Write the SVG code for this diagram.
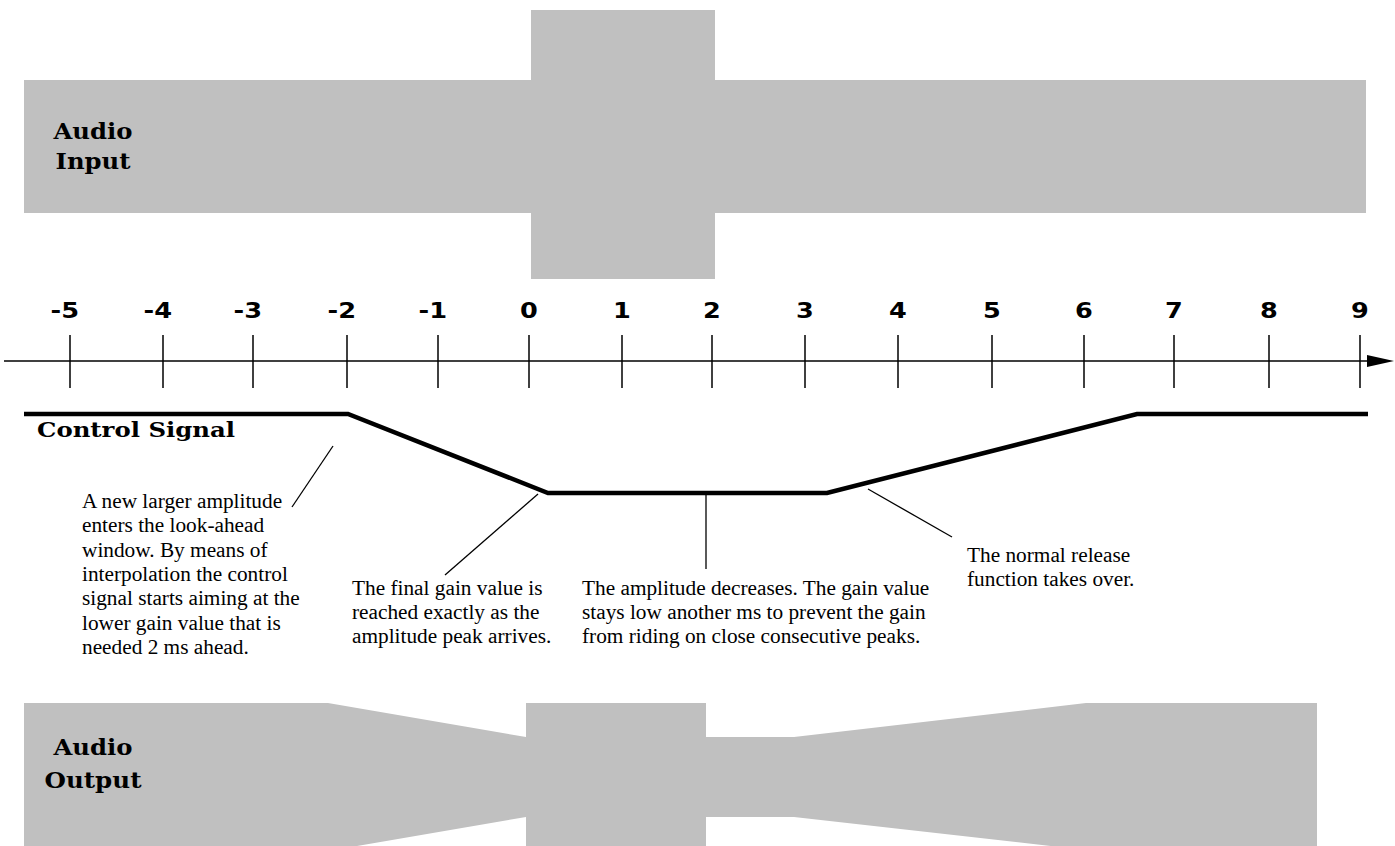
<svg xmlns="http://www.w3.org/2000/svg" width="1395" height="846" viewBox="0 0 1395 846">
<style>
.band{fill:#c0c0c0;stroke:none}
.lbl{font-family:"DejaVu Serif","Liberation Serif",serif;font-weight:bold;fill:#000}
.num{font-family:"DejaVu Sans","Liberation Sans",sans-serif;font-weight:bold;font-size:21px;fill:#000}
.note{font-family:"Liberation Serif","Times New Roman",serif;font-size:21.3px;fill:#000}
.axis{stroke:#000;stroke-width:1.5;fill:none}
.tick{stroke:#000;stroke-width:1.5}
.lead{stroke:#000;stroke-width:1.3;fill:none}
.ctrl{stroke:#000;stroke-width:4.5;fill:none;stroke-linejoin:miter}
</style>

<g id="audio-input">
<rect class="band" x="24" y="80" width="1342" height="133"/>
<rect class="band" x="531" y="10" width="184" height="269"/>
<text class="lbl" font-size="22" x="93" y="139" text-anchor="middle" textLength="79" lengthAdjust="spacingAndGlyphs">Audio</text>
<text class="lbl" font-size="22" x="93" y="169" text-anchor="middle" textLength="75" lengthAdjust="spacingAndGlyphs">Input</text>
</g>

<g id="axis">
<line class="axis" x1="4" y1="361" x2="1368" y2="361"/>
<path d="M1367,355 L1394,361 L1367,367 Z" fill="#000"/>
<g id="ticks">
<line class="tick" x1="70" y1="335" x2="70" y2="388"/>
<line class="tick" x1="163" y1="335" x2="163" y2="388"/>
<line class="tick" x1="253" y1="335" x2="253" y2="388"/>
<line class="tick" x1="347" y1="335" x2="347" y2="388"/>
<line class="tick" x1="438" y1="335" x2="438" y2="388"/>
<line class="tick" x1="529" y1="335" x2="529" y2="388"/>
<line class="tick" x1="622" y1="335" x2="622" y2="388"/>
<line class="tick" x1="712" y1="335" x2="712" y2="388"/>
<line class="tick" x1="805" y1="335" x2="805" y2="388"/>
<line class="tick" x1="898" y1="335" x2="898" y2="388"/>
<line class="tick" x1="992" y1="335" x2="992" y2="388"/>
<line class="tick" x1="1084" y1="335" x2="1084" y2="388"/>
<line class="tick" x1="1174" y1="335" x2="1174" y2="388"/>
<line class="tick" x1="1269" y1="335" x2="1269" y2="388"/>
<line class="tick" x1="1360" y1="335" x2="1360" y2="388"/>
</g>
<g id="tick-labels">
<text class="num" x="79" y="318" text-anchor="end" textLength="28.5" lengthAdjust="spacingAndGlyphs">-5</text>
<text class="num" x="172" y="318" text-anchor="end" textLength="28.5" lengthAdjust="spacingAndGlyphs">-4</text>
<text class="num" x="262" y="318" text-anchor="end" textLength="28.5" lengthAdjust="spacingAndGlyphs">-3</text>
<text class="num" x="356" y="318" text-anchor="end" textLength="28.5" lengthAdjust="spacingAndGlyphs">-2</text>
<text class="num" x="447" y="318" text-anchor="end" textLength="28.5" lengthAdjust="spacingAndGlyphs">-1</text>
<text class="num" x="529" y="318" text-anchor="middle" textLength="17.8" lengthAdjust="spacingAndGlyphs">0</text>
<text class="num" x="622" y="318" text-anchor="middle" textLength="17.8" lengthAdjust="spacingAndGlyphs">1</text>
<text class="num" x="712" y="318" text-anchor="middle" textLength="17.8" lengthAdjust="spacingAndGlyphs">2</text>
<text class="num" x="805" y="318" text-anchor="middle" textLength="17.8" lengthAdjust="spacingAndGlyphs">3</text>
<text class="num" x="898" y="318" text-anchor="middle" textLength="17.8" lengthAdjust="spacingAndGlyphs">4</text>
<text class="num" x="992" y="318" text-anchor="middle" textLength="17.8" lengthAdjust="spacingAndGlyphs">5</text>
<text class="num" x="1084" y="318" text-anchor="middle" textLength="17.8" lengthAdjust="spacingAndGlyphs">6</text>
<text class="num" x="1174" y="318" text-anchor="middle" textLength="17.8" lengthAdjust="spacingAndGlyphs">7</text>
<text class="num" x="1269" y="318" text-anchor="middle" textLength="17.8" lengthAdjust="spacingAndGlyphs">8</text>
<text class="num" x="1360" y="318" text-anchor="middle" textLength="17.8" lengthAdjust="spacingAndGlyphs">9</text>
</g>
</g>

<g id="control-signal">
<polyline class="ctrl" points="24,414 348,414 548,493 827,493 1137,414 1368,414"/>
<text class="lbl" font-size="21" x="37" y="437" textLength="198" lengthAdjust="spacingAndGlyphs">Control Signal</text>
</g>

<g id="connectors">
<line class="lead" x1="292" y1="507" x2="333" y2="446"/>
<line class="lead" x1="445" y1="575" x2="538" y2="494"/>
<line class="lead" x1="706" y1="494" x2="706" y2="569"/>
<line class="lead" x1="868" y1="489" x2="952" y2="537"/>
</g>

<g id="note-lookahead">
<text class="note" x="82" y="508">A new larger amplitude</text>
<text class="note" x="82" y="532">enters the look-ahead</text>
<text class="note" x="82" y="557">window. By means of</text>
<text class="note" x="82" y="581">interpolation the control</text>
<text class="note" x="82" y="605">signal starts aiming at the</text>
<text class="note" x="82" y="630">lower gain value that is</text>
<text class="note" x="82" y="654">needed 2 ms ahead.</text>
</g>

<g id="note-final">
<text class="note" x="352" y="595">The final gain value is</text>
<text class="note" x="352" y="619">reached exactly as the</text>
<text class="note" x="352" y="643">amplitude peak arrives.</text>
</g>

<g id="note-decrease">
<text class="note" x="582" y="595">The amplitude decreases. The gain value</text>
<text class="note" x="582" y="619">stays low another ms to prevent the gain</text>
<text class="note" x="582" y="643">from riding on close consecutive peaks.</text>
</g>

<g id="note-release">
<text class="note" x="967" y="562">The normal release</text>
<text class="note" x="967" y="586">function takes over.</text>
</g>

<g id="audio-output">
<polygon class="band" points="24,703 328,703 526,737 526,703 706,703 706,737 794,737 1086,703 1317,703 1317,850 1086,850 794,817 706,817 706,850 526,850 526,817 328,851 24,851"/>
<text class="lbl" font-size="22" x="93" y="755" text-anchor="middle" textLength="79" lengthAdjust="spacingAndGlyphs">Audio</text>
<text class="lbl" font-size="22" x="93" y="788" text-anchor="middle" textLength="97" lengthAdjust="spacingAndGlyphs">Output</text>
</g>
</svg>
